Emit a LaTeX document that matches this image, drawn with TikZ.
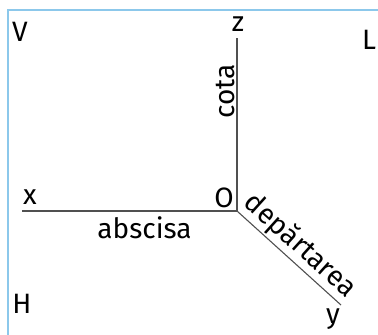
\documentclass[tikz,border=0pt]{standalone}
\usepackage{fontspec}
\setmainfont{Fira Sans}
\usetikzlibrary{positioning}
\definecolor{frameblue}{RGB}{140,200,235}
\definecolor{axisgray}{RGB}{80,80,80}

\begin{document}
\begin{tikzpicture}[x=1pt, y=-1pt,
    lbl/.style={font=\fontsize{28}{32}\selectfont, text=black, inner sep=1pt},
    axis/.style={axisgray, line width=1.1pt},
    frame/.style={frameblue, line width=2.2pt},
  ]
  \useasboundingbox (0,0) rectangle (378,335);
  \draw[frame] (8,335) -- (8,10) -- (378,10);

  % axes
  \coordinate (o) at (237,211);
  \coordinate (zend) at (237,38);
  \coordinate (xend) at (22,211);
  \coordinate (yend) at (341,305);

  \node[lbl] (zlbl) at (238,24) {z};
  \node[lbl] (xlbl) at (30,197) {x};
  \node[lbl] (ylbl) at (333,319) {y};
  \node[lbl] (olbl) at (224,198) {O};
  \node[lbl] (vlbl) at (20,32) {V};
  \node[lbl] (hlbl) at (22,304) {H};
  \node[lbl] (llbl) at (369,40) {L};

  \draw[axis] (o) -- node[lbl, pos=0.69, rotate=90, anchor=south, inner sep=2pt] (cota) {cota} (zend);
  \draw[axis] (o) -- node[lbl, pos=0.43, below, inner sep=5pt] (absc) {abscisa} (xend);
  \draw[axis] (o) -- node[lbl, pos=0.5, sloped, above, inner sep=2pt] (dep) {depărtarea} (yend);
\end{tikzpicture}
\end{document}
